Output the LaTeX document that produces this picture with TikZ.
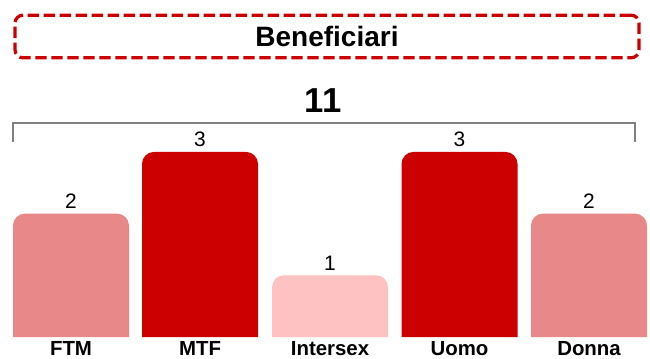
\documentclass[tikz,border=0pt]{standalone}
\usepackage{fontspec}
\setmainfont{Liberation Sans}
\usepackage{tikz}
\usetikzlibrary{positioning}
\definecolor{rossoscuro}{RGB}{204,0,0}
\definecolor{rossomedio}{RGB}{232,136,136}
\definecolor{rossochiaro}{RGB}{255,194,194}
\tikzstyle{titolo} = [rectangle, rounded corners=6pt, draw=rossoscuro, line width=2.4pt, dash pattern=on 8.5pt off 3.5pt, minimum width=468pt, minimum height=32pt, font=\fontsize{21}{25}\selectfont\bfseries]
\tikzstyle{valore} = [font=\fontsize{15.7}{18}\selectfont, inner sep=0pt]
\tikzstyle{categoria} = [font=\fontsize{15.3}{18}\selectfont\bfseries, anchor=base, inner sep=0pt]
\tikzstyle{parentesi} = [draw=gray, line width=1.5pt]

\begin{document}
\begin{tikzpicture}[x=0.75pt, y=-0.75pt]
\useasboundingbox (0,0) rectangle (650,358);
\node (titolo) [titolo] at (327,36.5) {Beneficiari};
\node (totale) [font=\fontsize{26}{30}\selectfont\bfseries, anchor=base, inner sep=0pt] at (323,112) {11};
% parentesi sopra le barre
\coordinate (sx) at (13,142);
\coordinate (dx) at (635,142);
\draw [parentesi] (sx) -- (13,123) -- (635,123) -- (dx);
% barre: x sinistra, valore, colore, nome
\foreach \xa/\val/\col/\nome [count=\i] in {13/2/rossomedio/FTM, 142/3/rossoscuro/MTF, 272/1/rossochiaro/Intersex, 401.5/3/rossoscuro/Uomo, 531/2/rossomedio/Donna}{
  \pgfmathsetmacro{\cima}{337-61.7*\val}
  \fill [\col] (\xa,337) [rounded corners=9pt] -- (\xa,\cima) -- (\xa+116,\cima) [sharp corners] -- (\xa+116,337) -- cycle;
  \node (val\i) [valore] at (\xa+58,\cima-12.5) {\val};
  \node (cat\i) [categoria] at (\xa+58,355.5) {\nome};
}
\end{tikzpicture}
\end{document}
